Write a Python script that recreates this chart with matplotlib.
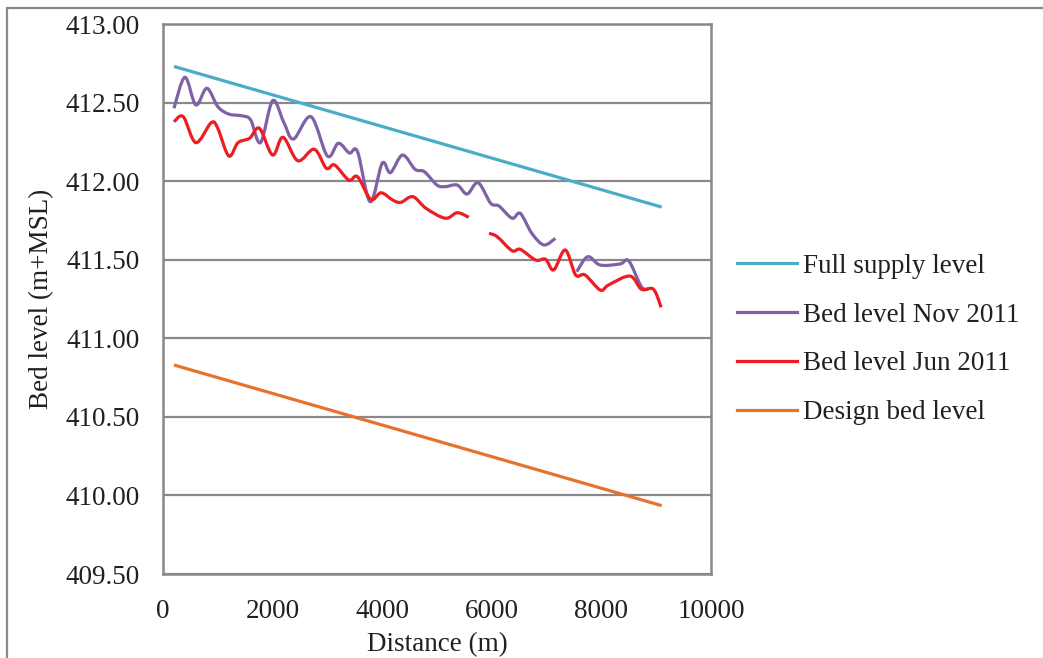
import matplotlib
matplotlib.use("Agg")
import matplotlib.pyplot as plt
from matplotlib.path import Path
from matplotlib.patches import PathPatch, Rectangle
from matplotlib.lines import Line2D
import numpy as np

plt.rcParams['font.family'] = ['Liberation Serif', 'DejaVu Serif']

# Straight reference lines (distance in m, level in m+MSL)
fsl_x = [200, 9100]
fsl_y = [412.73, 411.835]
design_x = [200, 9100]
design_y = [410.83, 409.935]

# Surveyed bed levels, each survey has a gap in the record
nov_x1 = [200, 400, 600, 800, 1000, 1200, 1450, 1600, 1780, 2000, 2200, 2380,
          2700, 3000, 3200, 3400, 3550, 3780, 4000, 4150, 4370, 4600, 4770,
          5000, 5150, 5370, 5550, 5750, 5980, 6130, 6370, 6520, 6730, 6950, 7160]
nov_y1 = [412.464, 412.661, 412.485, 412.591, 412.474, 412.427, 412.415,
          412.389, 412.245, 412.512, 412.378, 412.268, 412.410, 412.160,
          412.241, 412.179, 412.187, 411.869, 412.114, 412.054, 412.166,
          412.075, 412.060, 411.975, 411.965, 411.975, 411.918, 411.990,
          411.859, 411.842, 411.764, 411.795, 411.668, 411.594, 411.636]
nov_x2 = [7550, 7750, 7980, 8340, 8500, 8730, 8860]
nov_y2 = [411.424, 411.519, 411.466, 411.473, 411.492, 411.328, 411.314]

jun_x1 = [200, 370, 600, 880, 1000, 1200, 1370, 1580, 1760, 2000, 2190, 2460,
          2760, 2980, 3130, 3390, 3550, 3790, 3980, 4190, 4340, 4560, 4800,
          5150, 5370, 5580]
jun_y1 = [412.378, 412.410, 412.245, 412.372, 412.336, 412.160, 412.245,
          412.273, 412.336, 412.166, 412.279, 412.130, 412.203, 412.082,
          412.103, 412.007, 412.028, 411.884, 411.926, 411.880, 411.865,
          411.901, 411.827, 411.764, 411.799, 411.770]
jun_x2 = [5950, 6100, 6370, 6520, 6800, 6980, 7130, 7340, 7530, 7700, 7980,
          8130, 8520, 8730, 8950, 9090]
jun_y2 = [411.668, 411.646, 411.557, 411.566, 411.498, 411.503, 411.435,
          411.562, 411.403, 411.403, 411.307, 411.339, 411.396, 411.312,
          411.312, 411.197]

labels = ["Full supply level", "Bed level Nov 2011",
          "Bed level Jun 2011", "Design bed level"]
colors = ["#4BACC6", "#7F62A6", "#EE1D23", "#E5722D"]
grey = "#898989"
lw = 2.3


def smooth_path(xs, ys):
    # cubic bezier through every point, tangents from neighbours
    p = np.column_stack([xs, ys]).astype(float)
    verts = [p[0]]
    codes = [Path.MOVETO]
    n = len(p)
    for i in range(n - 1):
        p0 = p[i - 1] if i > 0 else p[i]
        p3 = p[i + 2] if i + 2 < n else p[i + 1]
        c1 = p[i] + (p[i + 1] - p0) / 6.0
        c2 = p[i + 1] - (p3 - p[i]) / 6.0
        verts += [c1, c2, p[i + 1]]
        codes += [Path.CURVE4] * 3
    return Path(verts, codes)


fig = plt.figure(figsize=(10.43, 6.58), dpi=100)
ax = fig.add_axes([163 / 1043, 1 - 574 / 658, 548 / 1043, 550 / 658])

ax.plot(fsl_x, fsl_y, color=colors[0], lw=lw, solid_capstyle='butt')
ax.plot(design_x, design_y, color=colors[3], lw=lw, solid_capstyle='butt')
for xs, ys, c in [(nov_x1, nov_y1, colors[1]), (nov_x2, nov_y2, colors[1]),
                  (jun_x1, jun_y1, colors[2]), (jun_x2, jun_y2, colors[2])]:
    ax.add_patch(PathPatch(smooth_path(xs, ys), fill=False, edgecolor=c,
                           lw=lw, capstyle='butt', joinstyle='round'))

ax.set_xlim(0, 10000)
ax.set_ylim(409.5, 413.0)
ax.set_xticks(range(0, 10001, 2000))
ax.set_yticks(np.arange(409.5, 413.01, 0.5))
ax.set_yticklabels(["%.2f" % v for v in np.arange(409.5, 413.01, 0.5)])
ax.tick_params(length=0, labelsize=19.5, colors="#231F20")
ax.tick_params(axis='y', pad=17)
ax.tick_params(axis='x', pad=18)
ax.grid(axis='y', color=grey, lw=1.6)
ax.set_axisbelow(True)
for s in ax.spines.values():
    s.set_color(grey)
    s.set_linewidth(1.8)

ax.set_xlabel("Distance (m)", fontsize=19.5, color="#231F20", labelpad=6)
ax.set_ylabel("Bed level (m+MSL)", fontsize=19.5, color="#231F20", labelpad=8)

handles = [Line2D([], [], color=c, lw=lw) for c in colors]
fig.legend(handles, labels, loc='center left',
           bbox_to_anchor=(737 / 1043, 1 - 339.5 / 658), frameon=False,
           fontsize=19.5, handlelength=2.2, handletextpad=0.25,
           labelspacing=0.88, borderpad=0, borderaxespad=0,
           labelcolor="#231F20")

# outer chart frame
fig.add_artist(Rectangle((7 / 1043, -0.1), 2.0, 1.1 - 8 / 658,
                         transform=fig.transFigure, fill=False,
                         edgecolor=grey, lw=1.6))

fig.savefig("out.png", dpi=100)
